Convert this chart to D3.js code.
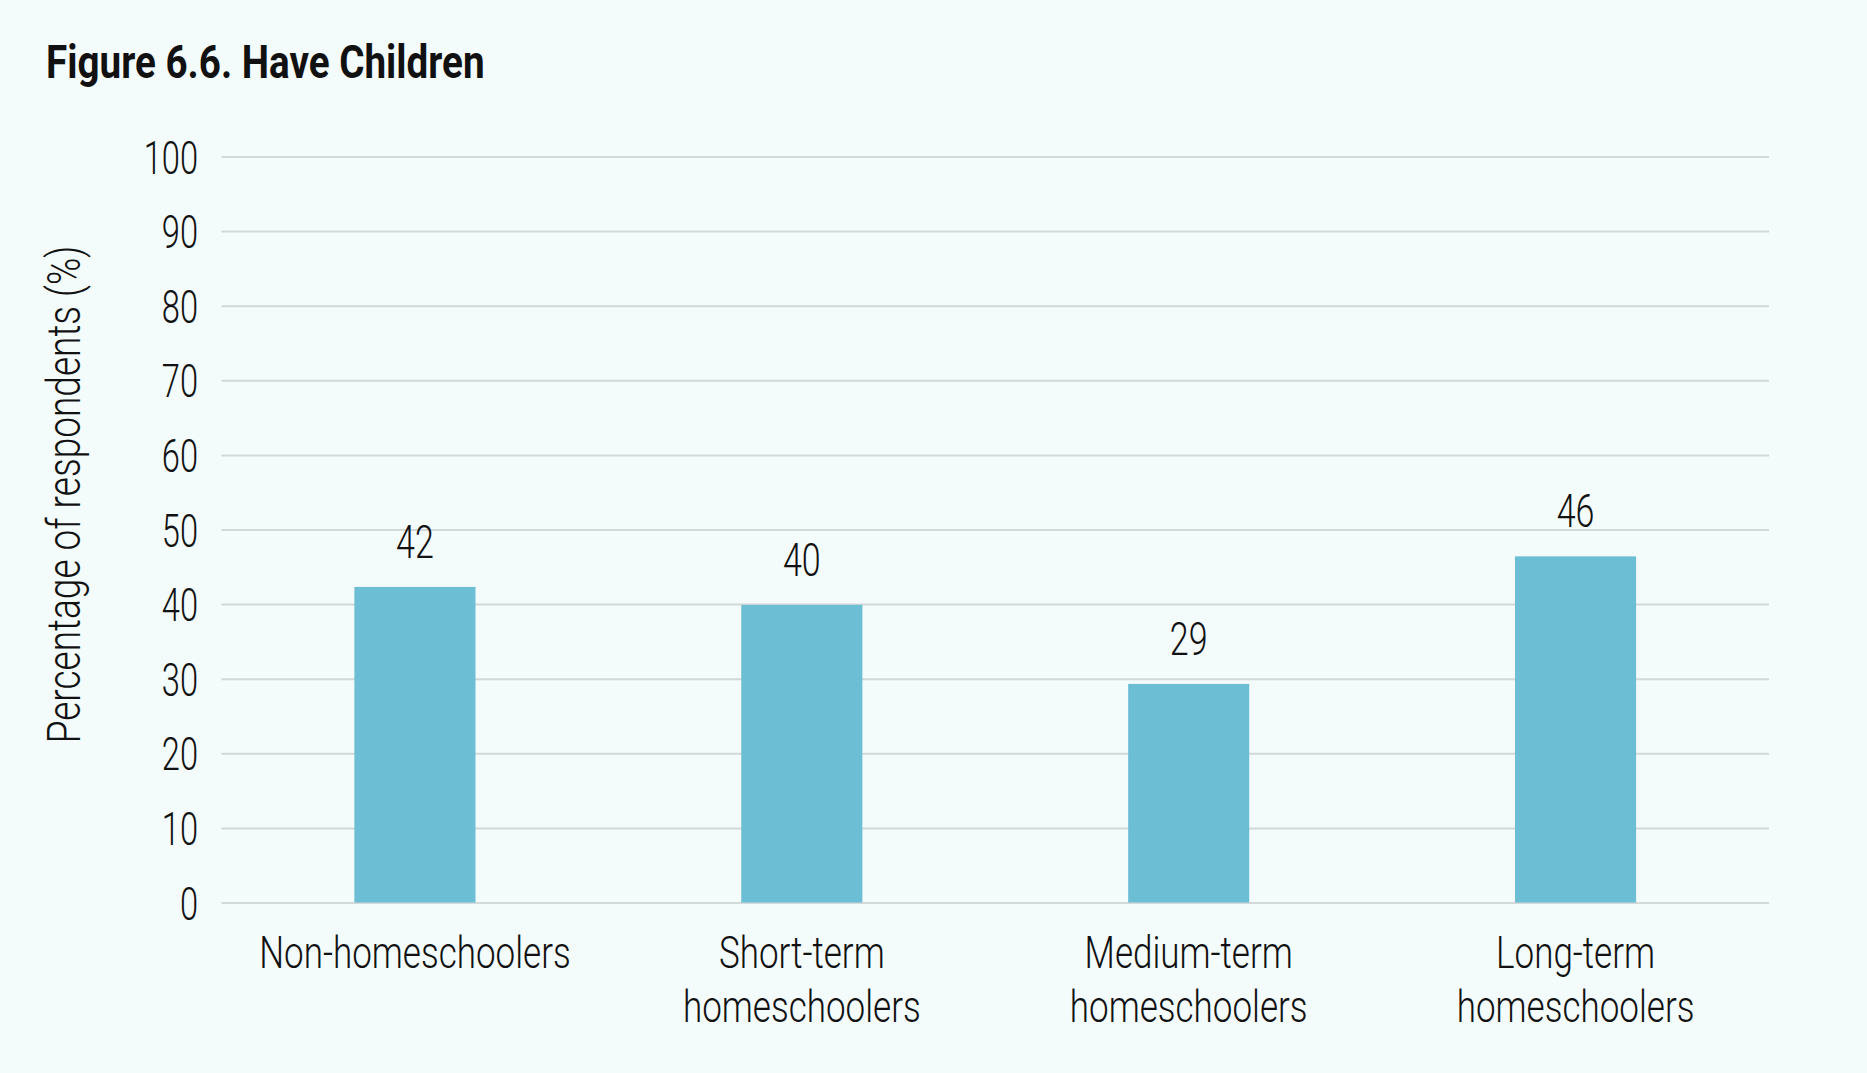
<!DOCTYPE html>
<html>
<head>
<meta charset="utf-8">
<script src="https://cdn.jsdelivr.net/npm/d3@7"></script>
<style>
  body { margin: 0; background: #f3fbfb; }
  svg text { font-family: Roboto, "Open Sans", sans-serif; fill: #111; }
</style>
</head>
<body>
<script>
// chart data
var categories = ['Non-homeschoolers', 'Short-term homeschoolers', 'Medium-term homeschoolers', 'Long-term homeschoolers'];
var values = [42.3, 39.9, 29.3, 46.4];
var yTicks = [0, 10, 20, 30, 40, 50, 60, 70, 80, 90, 100];
var title = 'Figure 6.6. Have Children';
var yLabel = 'Percentage of respondents (%)';

var width = 1867, height = 1073;
var margin = {top: 156.5, right: 98, bottom: 170.5, left: 221.5};
var innerW = width - margin.left - margin.right;
var innerH = height - margin.top - margin.bottom;
// no condensed font available, so squeeze text horizontally
var SX_TICK = 0.71, SX_VAL = 0.74, SX_LABEL = 0.805, SX_TITLE = 0.84;

var svg = d3.select('body').append('svg')
  .attr('width', width)
  .attr('height', height);

svg.append('rect').attr('width', width).attr('height', height).attr('fill', '#f3fbfb');

var x = d3.scaleBand().domain(categories).range([0, innerW])
  .paddingInner(0.687).paddingOuter(0.3435);
var y = d3.scaleLinear().domain([0, 100]).range([innerH, 0]);

var g = svg.append('g').attr('transform', 'translate(' + margin.left + ',' + margin.top + ')');

// gridlines + y ticks
var yAxis = g.append('g')
  .call(d3.axisLeft(y).tickValues(yTicks).tickSize(-innerW));
yAxis.select('.domain').remove();
yAxis.selectAll('.tick line').attr('stroke', '#d3d8d9').attr('stroke-width', 2);
yAxis.selectAll('.tick text')
  .attr('dy', '0.36em')
  .attr('transform', 'scale(' + SX_TICK + ',1)')
  .attr('x', -23.5 / SX_TICK)
  .style('font-size', '46px')
  .style('font-weight', 300);

// bars
g.selectAll('.bar').data(values).enter().append('rect')
  .attr('class', 'bar')
  .attr('x', function(d, i) { return x(categories[i]); })
  .attr('width', x.bandwidth())
  .attr('y', function(d) { return y(d); })
  .attr('height', function(d) { return innerH - y(d); })
  .attr('fill', '#6cbed4');

// value labels
g.selectAll('.val').data(values).enter().append('text')
  .attr('class', 'val')
  .attr('transform', function(d, i) {
    return 'translate(' + (x(categories[i]) + x.bandwidth() / 2) + ',' + (y(d) - 29) + ') scale(' + SX_VAL + ',1)';
  })
  .attr('text-anchor', 'middle')
  .style('font-size', '46px')
  .style('font-weight', 300)
  .text(function(d) { return d3.format('.0f')(d); });

// x axis labels, split on the space
var xAxis = g.append('g')
  .attr('transform', 'translate(0,' + innerH + ')')
  .call(d3.axisBottom(x).tickSize(0).tickFormat(''));
xAxis.select('.domain').remove();
xAxis.selectAll('.tick').each(function(d) {
  var words = d.split(' ');
  var t = d3.select(this).append('text')
    .attr('text-anchor', 'middle')
    .attr('transform', 'translate(0,65) scale(' + SX_LABEL + ',1)')
    .style('font-size', '43.5px')
    .style('font-weight', 300);
  words.forEach(function(w, k) {
    t.append('tspan').attr('x', 0).attr('y', k * 55).text(w);
  });
});

// y axis title
svg.append('text')
  .attr('transform', 'translate(80,494.5) rotate(-90) scale(' + SX_LABEL + ',1)')
  .attr('text-anchor', 'middle')
  .style('font-size', '46px')
  .style('font-weight', 300)
  .text(yLabel);

// chart title
svg.append('text')
  .attr('transform', 'translate(46,78) scale(' + SX_TITLE + ',1)')
  .style('font-size', '46px')
  .style('font-weight', 700)
  .text(title);
</script>
</body>
</html>
